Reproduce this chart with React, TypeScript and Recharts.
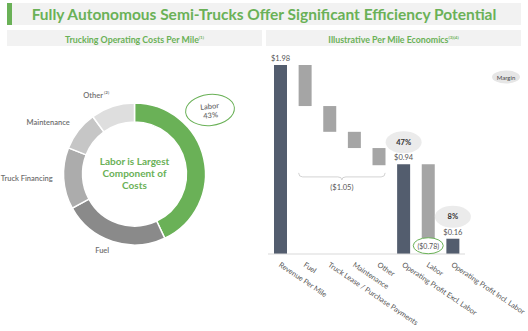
import React from 'react';
import { PieChart, Pie, Cell, BarChart, Bar, XAxis, YAxis, LabelList, ReferenceArea } from 'recharts';

// cost mix (left)
const costCategories = ['Labor', 'Fuel', 'Truck Financing', 'Maintenance', 'Other'];
const costShares = [43, 24, 14, 9, 10];
const costFootnotes = ['', '', '', '', '(2)'];

// per mile waterfall (right)
const stepCategories = [
  'Revenue Per Mile',
  'Fuel',
  'Truck Lease / Purchase Payments',
  'Maintenance',
  'Other',
  'Operating Profit Excl. Labor',
  'Labor',
  'Operating Profit Incl. Labor',
];
const stepValues = [1.98, 0.43, 0.27, 0.17, 0.18, 0.94, 0.78, 0.16];
const stepIsTotal = [true, false, false, false, false, true, false, true];
const bracedSteps = ['Fuel', 'Other'];
const calloutSteps = ['Labor'];

const GREEN = '#6ab157';
const DARK = '#535d6e';
const GREY_BAR = '#a5a5a5';
const PIE_COLORS = [GREEN, '#8a8a8a', '#acacac', '#c6c6c6', '#dedede'];
const FONT = 'Lato, "Open Sans", sans-serif';

const pieData = costCategories.map((name, i) => ({ name, value: costShares[i], note: costFootnotes[i] }));

let running = 0;
const stepData = stepCategories.map((name, i) => {
  const v = stepValues[i];
  if (stepIsTotal[i]) {
    running = v;
    return { name, base: 0, value: v, total: true };
  }
  running = running - v;
  return { name, base: running, value: v, total: false };
});
const revenue = stepValues[0];
const bracedSum = stepValues.slice(1, 5).reduce((a, b) => a + b, 0);

const RAD = Math.PI / 180;

const renderPieLabel = (props: any) => {
  const { cx, cy, midAngle, outerRadius, index } = props;
  if (index === 0) return null;
  const r = outerRadius + 11;
  const x = cx + r * Math.cos(-midAngle * RAD);
  const y = cy + r * Math.sin(-midAngle * RAD) - 1;
  const d = pieData[index];
  return (
    <text x={x} y={y} textAnchor="end" dominantBaseline="central" fontSize={7.5} fontWeight={600} fill="#6e6e6e" stroke="none" fontFamily={FONT}>
      {d.name}
      {d.note ? <tspan fontSize={4.5} dy={-3}> {d.note}</tspan> : null}
    </text>
  );
};

const renderStepTick = (props: any) => {
  const { x, y, payload } = props;
  const tx = x - 2;
  const ty = y + 4;
  return (
    <text x={tx} y={ty} transform={`rotate(34, ${tx}, ${ty})`} textAnchor="start" fontSize={7.3} fill="#555" fontFamily={FONT}>
      {payload.value}
    </text>
  );
};

const renderStepLabel = (props: any) => {
  const { x, y, width, height, index } = props;
  const row = stepData[index];
  const cx = x + width / 2;
  if (row.total) {
    const pct = Math.round((row.value / revenue) * 100);
    return (
      <g fontFamily={FONT}>
        <text x={cx} y={y - 4} textAnchor="middle" fontSize={7.5} fill="#555">
          ${row.value.toFixed(2)}
        </text>
        {index > 0 && (
          <g>
            <ellipse cx={cx} cy={y - 22} rx={18} ry={11} fill="#ebebeb" />
            <text x={cx} y={y - 22} textAnchor="middle" dominantBaseline="central" fontSize={7.5} fontWeight={700} fill="#333">
              {pct}%
            </text>
          </g>
        )}
      </g>
    );
  }
  if (calloutSteps.includes(row.name)) {
    const cy = y + height + 7;
    return (
      <g fontFamily={FONT}>
        <ellipse cx={cx} cy={cy} rx={15} ry={8} fill="#fff" stroke={GREEN} strokeWidth={1} />
        <text x={cx} y={cy} textAnchor="middle" dominantBaseline="central" fontSize={7} fill="#555">
          (${row.value.toFixed(2)})
        </text>
      </g>
    );
  }
  return null;
};

const Brace = (props: any) => {
  const { x, y, width } = props;
  const l = x + 6;
  const r = x + width - 6;
  const m = (l + r) / 2;
  const top = y + 1;
  const bot = y + 5;
  const d = `M${l},${top} Q${l},${bot} ${l + 4},${bot} L${m - 4},${bot} Q${m},${bot} ${m},${bot + 3} Q${m},${bot} ${m + 4},${bot} L${r - 4},${bot} Q${r},${bot} ${r},${top}`;
  return (
    <g>
      <path d={d} fill="none" stroke="#c8c8c8" strokeWidth={0.8} />
      <text x={m} y={bot + 13} textAnchor="middle" fontSize={7.5} fill="#555" fontFamily={FONT}>
        (${bracedSum.toFixed(2)})
      </text>
    </g>
  );
};

export default function App() {
  return (
    <div style={{ position: 'absolute', left: 0, top: 0, width: 528, height: 331, background: '#fff', fontFamily: FONT, overflow: 'hidden' }}>
      {/* title banner */}
      <div style={{ position: 'absolute', left: 7, top: 3, width: 514, height: 22, background: '#f2f2f2' }} />
      <div style={{ position: 'absolute', left: 7, top: 3, width: 5, height: 22, background: GREEN }} />
      <div style={{ position: 'absolute', left: 7, top: 3, width: 514, height: 22, lineHeight: '22px', textAlign: 'center', color: GREEN, fontWeight: 700, fontSize: 15.5 }}>
        Fully Autonomous Semi-Trucks Offer Significant Efficiency Potential
      </div>

      {/* sub headers */}
      <div style={{ position: 'absolute', left: 7, top: 30, width: 255, height: 16, lineHeight: '16px', background: '#f2f2f2', textAlign: 'center', color: GREEN, fontWeight: 700, fontSize: 8.8 }}>
        Trucking Operating Costs Per Mile<sup style={{ fontSize: 4.5 }}>(1)</sup>
      </div>
      <div style={{ position: 'absolute', left: 266, top: 30, width: 255, height: 16, lineHeight: '16px', background: '#f2f2f2', textAlign: 'center', color: GREEN, fontWeight: 700, fontSize: 8.8 }}>
        Illustrative Per Mile Economics<sup style={{ fontSize: 4.5 }}>(3)(4)</sup>
      </div>

      {/* donut */}
      <div style={{ position: 'absolute', left: 0, top: 50 }}>
        <PieChart width={264} height={281} margin={{ top: 0, right: 0, bottom: 0, left: 0 }}>
          <Pie
            data={pieData}
            dataKey="value"
            nameKey="name"
            cx={134.5}
            cy={124}
            innerRadius={52}
            outerRadius={71}
            startAngle={90}
            endAngle={-270}
            stroke="#fff"
            strokeWidth={1.5}
            label={renderPieLabel}
            labelLine={false}
            isAnimationActive={false}
          >
            {pieData.map((d, i) => (
              <Cell key={d.name} fill={PIE_COLORS[i]} />
            ))}
          </Pie>
        </PieChart>
      </div>
      <div style={{ position: 'absolute', left: 84, top: 155, width: 101, textAlign: 'center', color: GREEN, fontWeight: 700, fontSize: 10, lineHeight: '12px' }}>
        Labor is Largest
        <br />
        Component of
        <br />
        Costs
      </div>
      <div
        style={{
          position: 'absolute',
          left: 185,
          top: 94,
          width: 50,
          height: 32,
          border: `1px solid ${GREEN}`,
          borderRadius: '50%',
          transform: 'rotate(-6deg)',
          textAlign: 'center',
          color: '#6e6e6e',
          fontWeight: 600,
          fontSize: 7.5,
          lineHeight: '9px',
          paddingTop: 7,
          boxSizing: 'border-box',
        }}
      >
        {costCategories[0]}
        <br />
        {costShares[0]}%
      </div>

      {/* waterfall */}
      <div style={{ position: 'absolute', left: 264, top: 50 }}>
        <BarChart width={264} height={281} data={stepData} margin={{ top: 15, right: 63, left: 4, bottom: 0 }} barSize={13}>
          <XAxis dataKey="name" interval={0} height={77} axisLine={{ stroke: '#d9d9d9' }} tickLine={false} tick={renderStepTick} />
          <YAxis hide domain={[0, revenue]} />
          <ReferenceArea x1={bracedSteps[0]} x2={bracedSteps[1]} y1={0.81} y2={0.86} fill="none" stroke="none" shape={Brace} />
          <Bar dataKey="base" stackId="w" fill="transparent" isAnimationActive={false} />
          <Bar dataKey="value" stackId="w" isAnimationActive={false}>
            {stepData.map((d) => (
              <Cell key={d.name} fill={d.total ? DARK : GREY_BAR} />
            ))}
            <LabelList dataKey="value" content={renderStepLabel} />
          </Bar>
        </BarChart>
      </div>

      {/* margin legend */}
      <svg style={{ position: 'absolute', left: 490, top: 69 }} width={32} height={16}>
        <ellipse cx={16} cy={8} rx={14} ry={6.5} fill="#e6e6e6" />
        <text x={16} y={8} textAnchor="middle" dominantBaseline="central" fontSize={6} fill="#444" fontFamily={FONT}>
          Margin
        </text>
      </svg>
    </div>
  );
}
